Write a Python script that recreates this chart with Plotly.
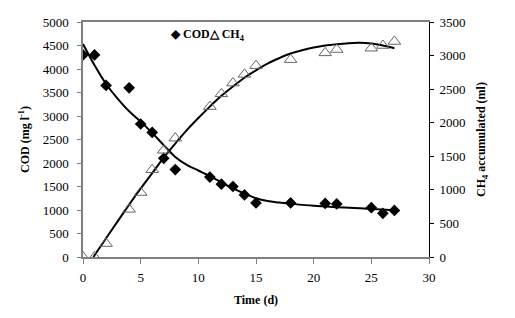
import plotly.graph_objects as go

# Measured data
days_cod = [0, 1, 2, 4, 5, 6, 7, 8, 11, 12, 13, 14, 15, 18, 21, 22, 25, 26, 27]
cod = [4300, 4300, 3650, 3600, 2830, 2650, 2100, 1860, 1700, 1550, 1500, 1320, 1150, 1150, 1140, 1130, 1050, 930, 990]

days_ch4 = [0, 1, 2, 4, 5, 6, 7, 8, 11, 12, 13, 14, 15, 18, 21, 22, 25, 26, 27]
ch4 = [0, 0, 200, 710, 960, 1300, 1590, 1770, 2240, 2430, 2590, 2720, 2850, 2940, 3040, 3090, 3110, 3150, 3210]

# Trend curves
fit_days_cod = [0, 1, 2, 3, 4, 5, 6, 7, 8, 9, 10, 11, 12, 13, 14, 15, 16, 17, 18, 20, 22, 24, 27]
fit_cod = [4530, 4080, 3680, 3370, 3100, 2880, 2640, 2380, 2130, 1960, 1840, 1720, 1590, 1460, 1350, 1250, 1190, 1160, 1135, 1090, 1060, 1035, 995]

fit_days_ch4 = [0.9, 2, 3, 4, 5, 6, 7, 8, 9, 10, 11, 12, 13, 14, 15, 16, 17, 18, 19, 20, 21, 22, 23, 24, 25, 26, 27]
fit_ch4 = [0, 280, 530, 780, 1020, 1250, 1480, 1690, 1890, 2070, 2240, 2400, 2540, 2670, 2780, 2880, 2960, 3030, 3080, 3120, 3150, 3170, 3185, 3190, 3180, 3150, 3110]

x_ticks = [0, 5, 10, 15, 20, 25, 30]
cod_ticks = [0, 500, 1000, 1500, 2000, 2500, 3000, 3500, 4000, 4500, 5000]
ch4_ticks = [0, 500, 1000, 1500, 2000, 2500, 3000, 3500]

FONT = "Liberation Serif"

fig = go.Figure()
fig.add_trace(go.Scatter(x=fit_days_cod, y=fit_cod, mode="lines", line=dict(color="black", width=2, shape="spline"),
                         showlegend=False, hoverinfo="skip"))
fig.add_trace(go.Scatter(x=fit_days_ch4, y=fit_ch4, mode="lines", yaxis="y2", line=dict(color="black", width=2, shape="spline"),
                         showlegend=False, hoverinfo="skip"))
fig.add_trace(go.Scatter(x=days_cod, y=cod, mode="markers", name="COD",
                         marker=dict(symbol="diamond", size=9, color="black")))
fig.add_trace(go.Scatter(x=days_ch4, y=ch4, mode="markers", name="CH4", yaxis="y2",
                         marker=dict(symbol="triangle-up-open", size=11, color="#666666", line=dict(width=1))))

fig.add_annotation(text="<b>◆ COD△ CH<sub>4</sub></b>", xref="paper", yref="paper", x=0.247, y=0.945,
                   xanchor="left", yanchor="middle", showarrow=False, font=dict(family=FONT, size=12, color="black"))

fig.update_layout(
    width=507, height=310,
    margin=dict(l=75, r=86, t=7, b=61),
    paper_bgcolor="white", plot_bgcolor="white",
    showlegend=False,
    font=dict(family=FONT, size=13, color="black"),
    xaxis=dict(range=[0, 30], tickvals=x_ticks, showgrid=False, zeroline=False,
               showline=True, linecolor="#808080", linewidth=1.5, mirror=True,
               ticks="outside", ticklen=5, tickcolor="#808080", ticklabelstandoff=3,
               tickfont=dict(family=FONT, size=13),
               title=dict(text="<b>Time (d)</b>", font=dict(family=FONT, size=12), standoff=11)),
    yaxis=dict(range=[0, 5000], tickvals=cod_ticks, showgrid=False, zeroline=False,
               showline=True, linecolor="#808080", linewidth=1.5,
               ticks="outside", ticklen=4, tickcolor="#808080", ticklabelstandoff=6,
               tickfont=dict(family=FONT, size=13),
               title=dict(text="<b>COD (mg l<sup>-1</sup>)</b>", font=dict(family=FONT, size=12), standoff=10)),
    yaxis2=dict(range=[0, 3500], tickvals=ch4_ticks, overlaying="y", side="right", showgrid=False, zeroline=False,
                showline=True, linecolor="black", linewidth=1,
                ticks="outside", ticklen=4, tickcolor="black", ticklabelstandoff=3,
                tickfont=dict(family=FONT, size=13),
                title=dict(text="<b>CH<sub>4</sub> accumulated (ml)</b>", font=dict(family=FONT, size=12), standoff=12)),
)

fig.write_html("out.html")
